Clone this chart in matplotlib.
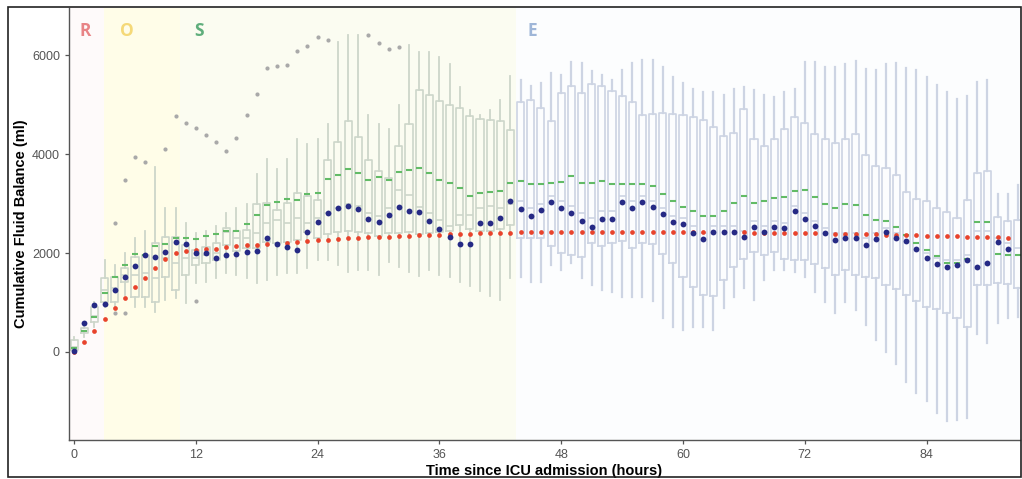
import numpy as np
import matplotlib
matplotlib.use("Agg")
import matplotlib.pyplot as plt
from matplotlib.patches import Rectangle

# ---------------- data ----------------
hours = list(range(94))

whisker_low = [0, 300, 500, 900, 900, 1150, 900, 900, 800, 1050,
               1100, 985, 1400, 1420, 1500, 1600, 1550, 1500, 1390, 1450,
               1550, 1600, 1600, 1700, 1860, 1860, 1760, 1620, 1660, 1660,
               1560, 1820, 1720, 1620, 1530, 1660, 1560, 1520, 1420, 1330,
               1240, 1130, 1050, 1490, 1520, 1420, 1420, 1760, 1660, 1800,
               1490, 1350, 1250, 1220, 1120, 1120, 1120, 1020, 680, 510,
               440, 510, 510, 440, 880, 1120, 1300, 1050, 1450, 1660,
               1660, 1620, 1520, 1220, 1000, 780, 1000, 850, 545, 240,
               0, -250, -600, -830, -1000, -1240, -1390, -1370, -1340, 360,
               180, 580, 680, 700]
q1 = [40, 380, 610, 1000, 1000, 1420, 1120, 1110, 1000, 1520,
      1250, 1550, 1760, 1790, 1850, 2160, 2050, 2100, 2100, 2230,
      2200, 2230, 2260, 2420, 2300, 2380, 2420, 2450, 2430, 2400,
      2350, 2400, 2400, 2420, 2380, 2400, 2420, 2450, 2570, 2480,
      2450, 2450, 2480, 2570, 2300, 2300, 2300, 2150, 2000, 1950,
      1920, 2210, 2150, 2200, 2250, 2100, 2210, 2190, 1990, 1800,
      1520, 1320, 1150, 1130, 1450, 1720, 1870, 2030, 1960, 2030,
      1870, 1860, 1860, 1780, 1690, 1560, 1660, 1560, 1520, 1490,
      1350, 1270, 1150, 1020, 915, 860, 780, 680, 510, 1350,
      1350, 1390, 1370, 1290]
median = [100, 430, 720, 1250, 1300, 1550, 1550, 1600, 1500, 1900,
          1800, 1900, 1900, 1950, 2000, 2420, 2300, 2300, 2400, 2600,
          2670, 2600, 2700, 2600, 2700, 2800, 2900, 3000, 2950, 2810,
          2750, 2900, 3270, 3170, 2940, 2810, 2670, 2550, 2770, 2770,
          2920, 2960, 2900, 3000, 3050, 2900, 3000, 3150, 3050, 2950,
          2800, 2700, 2850, 2850, 3150, 3050, 3150, 3050, 2900, 2750,
          2700, 2550, 2400, 2550, 2550, 2550, 2450, 2650, 2550, 2650,
          2600, 2950, 2800, 2650, 2500, 2400, 2400, 2400, 2300, 2400,
          2500, 2400, 2350, 2200, 2000, 1900, 1850, 1850, 1950, 2450,
          2450, 2300, 2200, 2100]
q3 = [240, 480, 915, 1500, 1520, 1700, 1925, 1960, 2200, 2330,
      2330, 2160, 2060, 2130, 2200, 2500, 2450, 2460, 3000, 3010,
      2870, 3010, 3210, 3150, 3070, 3880, 4250, 4670, 4350, 3890,
      3660, 3520, 4160, 4600, 5300, 5190, 5080, 4990, 4940, 4770,
      4700, 4690, 4670, 4480, 5060, 5100, 4940, 4670, 5240, 5370,
      5240, 5410, 5370, 5280, 5170, 5060, 4790, 4820, 4830, 4810,
      4790, 4750, 4690, 4550, 4360, 4420, 4920, 4310, 4160, 4300,
      4500, 4750, 4630, 4400, 4300, 4230, 4310, 4400, 3980, 3760,
      3720, 3575, 3240, 3090, 3060, 2900, 2820, 2710, 3070, 3620,
      3660, 2720, 2650, 2670]
whisker_high = [300, 600, 1000, 1860, 1750, 2000, 2300, 2450, 3740, 2900,
                2900, 2600, 2400, 2450, 2550, 2800, 2900, 3000, 3600, 3900,
                3700, 3900, 4300, 4200, 4300, 4600, 6270, 6400, 6400, 4800,
                4600, 4500, 5000, 6200, 6070, 6070, 5960, 5830, 5360, 4890,
                4790, 4900, 5090, 5580, 5500, 5370, 5440, 5640, 5600, 5860,
                5850, 5680, 5600, 5500, 5700, 5850, 5900, 5900, 5770, 5560,
                5440, 5310, 5260, 5260, 5190, 5310, 5360, 5290, 5190, 5160,
                5260, 5310, 5870, 5870, 5760, 5760, 5830, 5880, 5710, 5700,
                5830, 5850, 5730, 5700, 5550, 5390, 5260, 5120, 5170, 5460,
                5500, 3200, 3200, 3370]

nan = float("nan")
blue_points = [20, 590, 950, 970, 1250, 1510, 1740, 1960, 1910, 2030,
               2230, 2180, 2010, 2010, 1905, 1960, 1990, 2030, 2050, 2310,
               2180, 2120, 2070, 2430, 2630, 2800, 2900, 2950, 2880, 2680,
               2630, 2770, 2940, 2850, 2820, 2650, 2480, 2320, 2180, 2180,
               2600, 2600, 2700, 3060, 2880, 2750, 2870, 3040, 2900, 2800,
               2650, 2530, 2690, 2690, 3040, 2920, 3040, 2930, 2790, 2630,
               2580, 2410, 2280, 2420, 2430, 2430, 2330, 2530, 2420, 2530,
               2500, 2850, 2690, 2550, 2400, 2260, 2300, 2300, 2160, 2280,
               2430, 2300, 2250, 2080, 1890, 1780, 1720, 1750, 1860, 1720,
               1790, 2230, 2090, nan]
green_means = [80, 430, 715, 1190, 1510, 1760, 1970, 1960, 2150, 2180,
               2310, 2300, 2280, 2340, 2380, 2450, 2440, 2580, 2770, 2970,
               3040, 3100, 3070, 3200, 3220, 3490, 3575, 3690, 3610, 3470,
               3540, 3470, 3640, 3680, 3710, 3610, 3470, 3420, 3310, 3150,
               3220, 3240, 3260, 3410, 3460, 3390, 3390, 3420, 3440, 3560,
               3420, 3420, 3450, 3390, 3390, 3390, 3390, 3350, 3190, 3050,
               2940, 2850, 2750, 2750, 2850, 3020, 3150, 3020, 3050, 3120,
               3140, 3250, 3270, 3140, 3000, 2900, 2990, 2970, 2770, 2670,
               2650, 2530, 2360, 2200, 2060, 1940, 1800, 1790, 1880, 2620,
               2620, 1990, 1960, 1960]
red_fit = [0, 210, 430, 665, 890, 1100, 1310, 1500, 1690, 1880,
           2010, 2040, 2060, 2075, 2090, 2130, 2150, 2160, 2160, 2180,
           2190, 2210, 2230, 2250, 2260, 2270, 2280, 2300, 2300, 2320,
           2330, 2330, 2340, 2340, 2360, 2360, 2370, 2380, 2380, 2390,
           2400, 2400, 2410, 2410, 2415, 2420, 2420, 2425, 2425, 2425,
           2425, 2425, 2425, 2425, 2425, 2425, 2425, 2425, 2425, 2425,
           2420, 2420, 2420, 2420, 2420, 2415, 2415, 2410, 2410, 2410,
           2405, 2400, 2400, 2400, 2395, 2390, 2385, 2380, 2380, 2375,
           2370, 2365, 2360, 2355, 2350, 2345, 2340, 2335, 2330, 2325,
           2320, 2315, 2310, nan]

outlier_hours = [4, 4, 5, 5, 6, 7, 9, 10, 11, 12, 12, 13, 14, 15, 16, 17,
                 18, 19, 20, 21, 22, 23, 24, 25, 29, 30, 31, 32]
outlier_values = [2610, 790, 3470, 795, 3945, 3835, 4100, 4760, 4630, 4520,
                  1040, 4390, 4250, 4060, 4330, 4800, 5210, 5750, 5790, 5800,
                  6090, 6190, 6370, 6300, 6400, 6250, 6130, 6170]

phase_labels = ["R", "O", "S", "E"]
phase_starts = [-0.5, 2.95, 10.4, 43.5]
phase_ends = [2.95, 10.4, 43.5, 93.2]
phase_label_x = [1.1, 5.2, 12.3, 45.2]

# ---------------- styles ----------------
phase_fill = ["#fefafa", "#fffde8", "#fbfcf1", "#fcfdfe"]
phase_text = ["#e88486", "#f5d978", "#5fae7c", "#9fb6d8"]
box_col_early = "#cdd6ca"
box_col_late = "#cdd4e3"

plt.rcParams["font.family"] = ["Liberation Sans", "DejaVu Sans"]

fig = plt.figure(figsize=(10.22, 4.79), dpi=100)
ax = fig.add_axes([0.0675, 0.0814, 0.9305, 0.9016])

XMIN, XMAX = -0.5, 93.2
YMIN, YMAX = -1780, 6950
ax.set_xlim(XMIN, XMAX)
ax.set_ylim(YMIN, YMAX)

for s, e, c in zip(phase_starts, phase_ends, phase_fill):
    ax.axvspan(s, e, color=c, lw=0, zorder=0)

for lab, x, c in zip(phase_labels, phase_label_x, phase_text):
    ax.text(x, 6480, lab, color=c, fontsize=12.5, fontweight="bold",
            family=["Open Sans", "DejaVu Sans"], ha="center", va="center",
            zorder=5)

# box statistics
stats = []
for i, h in enumerate(hours):
    fl = [v for hh, v in zip(outlier_hours, outlier_values) if hh == h]
    stats.append(dict(med=median[i], q1=q1[i], q3=q3[i],
                      whislo=whisker_low[i], whishi=whisker_high[i],
                      fliers=fl))

flierprops = dict(marker="o", markersize=3.0, markerfacecolor="#a9a9a9",
                  markeredgecolor="none")

early = [i for i, h in enumerate(hours) if h < 43.5]
late = [i for i, h in enumerate(hours) if h >= 43.5]

for idx, col, wlw in ((early, box_col_early, 1.3), (late, box_col_late, 1.6)):
    ax.bxp([stats[i] for i in idx], positions=[hours[i] for i in idx],
           widths=0.7, showcaps=False, showfliers=True,
           flierprops=flierprops,
           boxprops=dict(color=col, lw=1.2),
           whiskerprops=dict(color=col, lw=wlw),
           medianprops=dict(color=col, lw=1.2),
           manage_ticks=False, zorder=2)

ax.plot(hours, green_means, ls="none", marker="_", markersize=5.0,
        mew=1.5, color="#62bb66", zorder=3)
ax.plot(hours, red_fit, ls="none", marker="o", markersize=3.4,
        markeredgecolor="none", color="#e8432c", zorder=4)
ax.plot(hours, blue_points, ls="none", marker="o", markersize=4.2,
        markeredgecolor="none", color="#262a85", zorder=4)

# axes styling (classic theme)
for sp in ("top", "right"):
    ax.spines[sp].set_visible(False)
for sp in ("left", "bottom"):
    ax.spines[sp].set_color("#555555")
    ax.spines[sp].set_linewidth(1.0)
ax.set_xticks([0, 12, 24, 36, 48, 60, 72, 84])
ax.set_yticks([0, 2000, 4000, 6000])
ax.tick_params(colors="#555555", labelcolor="#555555", labelsize=9,
               length=3, width=0.9)
ax.set_xlabel("Time since ICU admission (hours)", fontsize=10.5,
              fontweight="bold", labelpad=2)
ax.set_ylabel("Cumulative Fluid Balance (ml)", fontsize=10.5,
              fontweight="bold", labelpad=3)

# outer frame of the picture
fig.patches.append(Rectangle((8 / 1022, 0.004), 1013 / 1022, 1 - 0.004 - 7 / 479,
                             transform=fig.transFigure, fill=False,
                             ec="#222222", lw=1.2))

fig.savefig("out.png", dpi=100)
